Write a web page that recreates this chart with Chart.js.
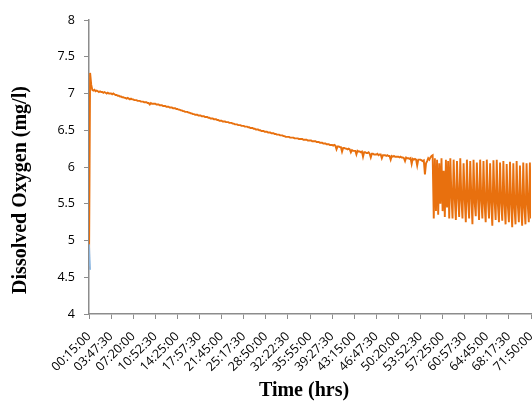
<!DOCTYPE html>
<html>
<head>
<meta charset="utf-8">
<script src="https://cdn.jsdelivr.net/npm/chart.js@4.4.1/dist/chart.umd.min.js"></script>
<style>
  html, body { margin: 0; padding: 0; background: #fff; }
  #wrap { width: 532px; height: 401px; position: relative; }
</style>
</head>
<body>
<div id="wrap"><canvas id="chart"></canvas></div>
<script>
// x tick labels, one every `pointsPerLabel` samples
const tickLabels = [
  '00:15:00', '03:47:30', '07:20:00', '10:52:30', '14:25:00', '17:57:30', '21:45:00',
  '25:17:30', '28:50:00', '32:22:30', '35:55:00', '39:27:30', '43:15:00', '46:47:30',
  '50:20:00', '53:52:30', '57:25:00', '60:57:30', '64:45:00', '68:17:30', '71:50:00'
];
const pointsPerLabel = 20;

// dissolved oxygen readings (mg/l), 20 per row
const oxygen = [
  4.62, 7.28, 7.12, 7.05, 7.04, 7.05, 7.03, 7.04, 7.03, 7.02, 7.03, 7.02, 7.02, 7.01, 7.02, 7.01, 7.0, 7.01, 7.0, 7.0,
  7.0, 6.99, 7.0, 6.99, 6.98, 6.98, 6.97, 6.97, 6.96, 6.96, 6.95, 6.95, 6.94, 6.94, 6.93, 6.94, 6.93, 6.92, 6.93, 6.92,
  6.92, 6.91, 6.91, 6.91, 6.9, 6.9, 6.9, 6.89, 6.89, 6.89, 6.88, 6.88, 6.88, 6.87, 6.87, 6.85, 6.87, 6.86, 6.86, 6.86,
  6.86, 6.85, 6.85, 6.85, 6.84, 6.84, 6.84, 6.83, 6.83, 6.83, 6.82, 6.82, 6.82, 6.81, 6.81, 6.81, 6.8, 6.8, 6.8, 6.79,
  6.79, 6.78, 6.78, 6.77, 6.77, 6.76, 6.76, 6.75, 6.75, 6.75, 6.74, 6.74, 6.73, 6.73, 6.72, 6.72, 6.71, 6.71, 6.71, 6.7,
  6.7, 6.7, 6.69, 6.69, 6.69, 6.68, 6.68, 6.68, 6.67, 6.67, 6.66, 6.66, 6.66, 6.65, 6.65, 6.65, 6.64, 6.64, 6.63, 6.63,
  6.63, 6.62, 6.62, 6.62, 6.61, 6.61, 6.61, 6.6, 6.6, 6.6, 6.59, 6.59, 6.58, 6.58, 6.58, 6.57, 6.57, 6.57, 6.56, 6.56,
  6.56, 6.55, 6.55, 6.55, 6.54, 6.54, 6.53, 6.53, 6.53, 6.52, 6.52, 6.51, 6.51, 6.51, 6.5, 6.5, 6.49, 6.49, 6.49, 6.48,
  6.48, 6.48, 6.47, 6.47, 6.47, 6.46, 6.46, 6.46, 6.45, 6.45, 6.44, 6.44, 6.44, 6.43, 6.43, 6.43, 6.42, 6.42, 6.41, 6.41,
  6.41, 6.41, 6.4, 6.4, 6.4, 6.4, 6.39, 6.39, 6.39, 6.39, 6.38, 6.38, 6.38, 6.38, 6.37, 6.37, 6.37, 6.37, 6.36, 6.36,
  6.36, 6.36, 6.35, 6.35, 6.35, 6.35, 6.34, 6.34, 6.34, 6.33, 6.33, 6.33, 6.32, 6.32, 6.32, 6.31, 6.31, 6.31, 6.3, 6.3,
  6.3, 6.29, 6.3, 6.29, 6.24, 6.28, 6.28, 6.27, 6.27, 6.21, 6.26, 6.26, 6.25, 6.25, 6.24, 6.25, 6.24, 6.2, 6.23, 6.22,
  6.22, 6.22, 6.17, 6.22, 6.21, 6.21, 6.2, 6.21, 6.14, 6.2, 6.2, 6.19, 6.19, 6.2, 6.18, 6.13, 6.18, 6.18, 6.17, 6.17,
  6.17, 6.18, 6.16, 6.17, 6.17, 6.12, 6.16, 6.16, 6.16, 6.15, 6.16, 6.15, 6.15, 6.1, 6.15, 6.14, 6.15, 6.14, 6.14, 6.14,
  6.14, 6.13, 6.14, 6.13, 6.13, 6.12, 6.08, 6.13, 6.12, 6.12, 6.11, 6.12, 6.04, 6.11, 6.1, 6.11, 6.1, 6.02, 6.1, 6.1,
  6.1, 6.09, 6.08, 6.09, 5.9, 6.05, 6.08, 6.12, 6.1, 6.13, 6.15, 6.16, 5.3, 6.12, 5.4, 6.1, 5.35, 6.05, 5.5, 6.12,
  5.4, 5.95, 5.32, 6.1, 5.45, 6.08, 5.3, 6.12, 5.6, 5.3, 6.1, 5.58, 5.28, 6.08, 5.6, 5.32, 6.12, 5.55, 5.3, 6.05,
  5.58, 5.25, 6.1, 5.55, 5.3, 6.08, 5.6, 5.22, 6.1, 5.52, 5.33, 6.06, 5.58, 5.28, 6.1, 5.55, 5.3, 6.08, 5.5, 5.25,
  6.1, 5.56, 5.3, 6.05, 5.52, 5.2, 6.09, 5.55, 5.28, 6.1, 5.5, 5.25, 6.06, 5.52, 5.27, 6.08, 5.5, 5.22, 6.04, 5.48,
  5.25, 6.07, 5.5, 5.18, 6.05, 5.45, 5.22, 6.08, 5.5, 5.25, 6.02, 5.48, 5.2, 6.06, 5.45, 5.22, 6.05, 5.5, 5.25, 6.06,
  5.3
];

// short second trace only visible at the very start
const oxygenProbe2 = [4.95, 4.6];

const AXIS_COLOR = '#8c8c8c';
const TICK_FONT = { family: 'Open Sans', size: 12.5 };
const TITLE_FONT = 'bold 20px "Liberation Serif"';

const toPoints = (arr) => arr.map((v, i) => ({ x: i, y: v }));

// axis titles drawn by hand so they sit where the original has them
const axisTitles = {
    id: 'axisTitles',
    afterDraw(chart) {
        const { ctx } = chart;
        ctx.save();
        ctx.fillStyle = '#000';
        ctx.font = TITLE_FONT;
        ctx.textAlign = 'center';
        ctx.textBaseline = 'middle';
        ctx.fillText('Time (hrs)', 304, 391);
        ctx.translate(21, 190);
        ctx.rotate(-Math.PI / 2);
        ctx.fillText('Dissolved Oxygen (mg/l)', 0, 0);
        ctx.restore();
    }
};

new Chart(document.getElementById('chart'), {
    type: 'line',
    data: {
        datasets: [
            {
                data: toPoints(oxygen),
                borderColor: '#E8700E',
                borderWidth: 1.9,
                pointRadius: 0,
                tension: 0,
                order: 2
            },
            {
                data: toPoints(oxygenProbe2),
                borderColor: '#8DB8E2',
                borderWidth: 1.8,
                pointRadius: 0,
                tension: 0,
                order: 1
            }
        ]
    },
    options: {
        responsive: true,
        maintainAspectRatio: false,
        animation: false,
        layout: { padding: { top: 20, right: 1, left: 0, bottom: 0 } },
        plugins: {
            legend: { display: false },
            tooltip: { enabled: false }
        },
        scales: {
            x: {
                type: 'linear',
                min: 0,
                max: oxygen.length - 1,
                afterFit: (s) => { s.height = 87; s.paddingRight = 0; s.paddingLeft = 0; },
                border: { color: AXIS_COLOR, width: 1.5 },
                grid: { drawOnChartArea: false, tickLength: 5, color: AXIS_COLOR },
                ticks: {
                    stepSize: pointsPerLabel,
                    autoSkip: false,
                    minRotation: 45,
                    maxRotation: 45,
                    padding: 10,
                    color: '#000',
                    font: TICK_FONT,
                    callback: (v) => tickLabels[Math.round(v / pointsPerLabel)] ?? ''
                }
            },
            y: {
                min: 4,
                max: 8,
                afterFit: (s) => { s.width = 89; s.paddingTop = 0; s.paddingBottom = 0; },
                border: { color: AXIS_COLOR, width: 1.5 },
                grid: { drawOnChartArea: false, tickLength: 5, color: AXIS_COLOR },
                ticks: {
                    stepSize: 0.5,
                    padding: 9,
                    color: '#000',
                    font: TICK_FONT,
                    callback: (v) => String(v)
                }
            }
        }
    },
    plugins: [axisTitles]
});
</script>
</body>
</html>
